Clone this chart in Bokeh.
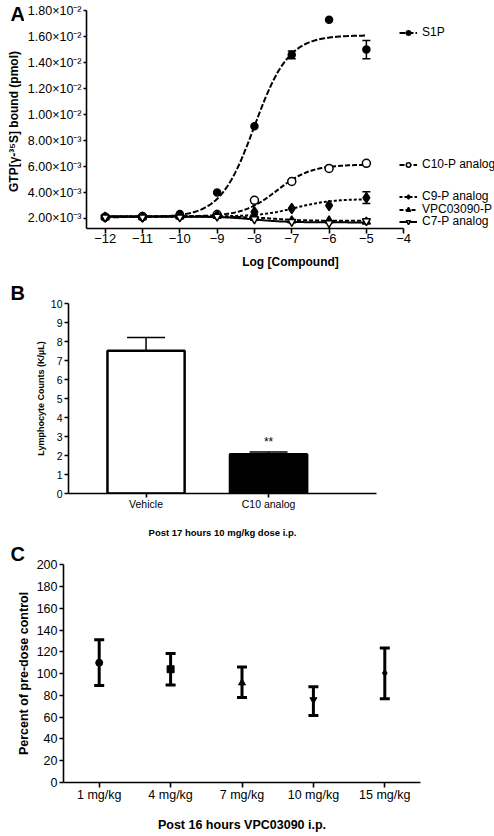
import numpy as np
from bokeh.plotting import figure
from bokeh.models import (ColumnDataSource, Whisker, TeeHead, Legend, LegendItem, Label, Title,
                          FixedTicker, CustomJSTickFormatter, FactorRange, Range1d)
from bokeh.layouts import column, row
from bokeh.embed import file_html
from bokeh.resources import INLINE

FONT = "Liberation Sans"

# ---------------- Panel A data ----------------
log_conc = [-12, -11, -10, -9, -8, -7, -6, -5]
s1p = [2.10e-3, 2.10e-3, 2.35e-3, 4.00e-3, 9.10e-3, 1.46e-2, 1.73e-2, 1.50e-2]
s1p_err = [0, 0, 0, 0, 0, 3.0e-4, 0, 7.0e-4]
c10 = [2.10e-3, 2.15e-3, 2.20e-3, 2.30e-3, 3.40e-3, 4.85e-3, 5.85e-3, 6.25e-3]
c9 = [2.10e-3, 2.10e-3, 2.20e-3, 2.25e-3, 2.50e-3, 2.77e-3, 3.00e-3, 3.60e-3]
c9_err = [0, 0, 0, 0, 0, 0, 0, 4.5e-4]
vpc = [2.10e-3, 2.10e-3, 2.15e-3, 2.20e-3, 2.05e-3, 1.85e-3, 1.85e-3, 1.75e-3]
c7 = [2.10e-3, 2.10e-3, 2.10e-3, 2.15e-3, 1.95e-3, 1.75e-3, 1.65e-3, 1.80e-3]

# sigmoid fit parameters: bottom, top, logEC50, hill
s1p_fit = [2.10e-3, 1.61e-2, -8.0, 0.95]
c10_fit = [2.15e-3, 6.15e-3, -7.4, 0.95]
c9_fit = [2.15e-3, 3.50e-3, -6.9, 0.9]
vpc_fit = [2.15e-3, 1.82e-3, -7.5, 1.0]
c7_fit = [2.15e-3, 1.70e-3, -8.0, 1.0]

series_names = ["S1P", "C10-P analog", "C9-P analog", "VPC03090-P", "C7-P analog"]

a_xticks = [-12, -11, -10, -9, -8, -7, -6, -5, -4]
a_yticks = [0.002, 0.004, 0.006, 0.008, 0.010, 0.012, 0.014, 0.016, 0.018]
a_ytick_labels = ["2.00×10⁻³", "4.00×10⁻³", "6.00×10⁻³", "8.00×10⁻³", "1.00×10⁻²",
                  "1.20×10⁻²", "1.40×10⁻²", "1.60×10⁻²", "1.80×10⁻²"]
a_ylabel = "GTP[γ-³⁵S] bound (pmol)"

# ---------------- Panel B data ----------------
b_groups = ["Vehicle", "C10 analog"]
b_pos = [1, 2]
b_counts = [7.52, 2.07]
b_err = [0.70, 0.12]
b_yticks = [0, 1, 2, 3, 4, 5, 6, 7, 8, 9, 10]

# ---------------- Panel C data ----------------
c_doses = ["1 mg/kg", "4 mg/kg", "7 mg/kg", "10 mg/kg", "15 mg/kg"]
c_mean = [110, 104, 91.5, 76, 100.5]
c_low = [89, 89.5, 78, 61.5, 77]
c_high = [131, 118.5, 106, 88, 123.5]
c_yticks = [0, 20, 40, 60, 80, 100, 120, 140, 160, 180, 200]


def style_axes(p, tick_size, label_size):
    for ax in p.axis:
        ax.axis_line_color = "black"
        ax.axis_line_width = 1.6
        ax.major_tick_line_color = "black"
        ax.major_tick_line_width = 1.6
        ax.major_tick_out = 5
        ax.major_tick_in = 0
        ax.minor_tick_out = 0
        ax.minor_tick_in = 0
        ax.major_label_text_font = FONT
        ax.major_label_text_font_size = tick_size
        ax.major_label_text_color = "black"
        ax.axis_label_text_font = FONT
        ax.axis_label_text_font_style = "bold"
        ax.axis_label_text_font_size = label_size
        ax.axis_label_text_color = "black"
    p.grid.visible = False
    p.outline_line_color = None
    if "frame_align" in p.properties():
        p.frame_align = False


def panel_letter(p, letter, offset, standoff=0, valign="bottom"):
    p.add_layout(Title(text=letter, align="left", offset=offset, standoff=standoff,
                       vertical_align=valign,
                       text_font=FONT, text_font_style="bold", text_font_size="20px",
                       text_color="black"), "above")


def lookup_formatter(tvals, tlabels):
    return CustomJSTickFormatter(
        args=dict(tvals=tvals, tlabels=tlabels),
        code="const i = tvals.findIndex(t => Math.abs(t - tick) < 1e-9); return i >= 0 ? tlabels[i] : '';")


# ================= Panel A =================
# narrow strip on the left that carries the letter "A" and the y-axis title
fa = figure(width=24, height=272, title=None, x_axis_type=None, y_axis_type=None,
            output_backend="svg", toolbar_location=None, min_border=0)
fa.outline_line_color = None
fa.grid.visible = False
if "frame_align" in fa.properties():
    fa.frame_align = False
fa.add_layout(Label(x=10, y=259, x_units="screen", y_units="screen", text="A",
                    text_baseline="alphabetic", text_font=FONT, text_font_style="bold",
                    text_font_size="20px", text_color="black"))
fa.add_layout(Label(x=13, y=151, x_units="screen", y_units="screen", text=a_ylabel,
                    angle=np.pi / 2, text_align="center", text_baseline="middle",
                    text_font=FONT, text_font_style="bold", text_font_size="12px",
                    text_color="black"))

pa = figure(width=470, height=272, title=None, x_range=Range1d(-12.5, -1.567),
            y_range=Range1d(0.00123, 0.01801), output_backend="svg", toolbar_location=None,
            min_border_left=61, min_border_right=0, min_border_top=10, min_border_bottom=44)
style_axes(pa, "12.5px", "12px")
pa.xaxis.major_label_text_font_size = "13px"
pa.xaxis.ticker = FixedTicker(ticks=a_xticks)
pa.xaxis.bounds = (-12.5, -4)
pa.xaxis.axis_label = "Log [Compound]"
pa.xaxis.major_label_standoff = 0
pa.xaxis.axis_label_standoff = 9
pa.yaxis.ticker = FixedTicker(ticks=a_yticks)
pa.yaxis.formatter = lookup_formatter(a_yticks, a_ytick_labels)
pa.yaxis.major_tick_out = 3
pa.yaxis.major_label_standoff = 2

xfit = np.linspace(-12, -5, 200)


def sigmoid(params):
    bottom, top, ec50, hill = params
    return bottom + (top - bottom) / (1 + 10 ** ((ec50 - xfit) * hill))


a_series = [
    (s1p, s1p_fit, "circle", "black", 7, "6 2"),
    (c10, c10_fit, "circle", "white", 8, "5 2"),
    (c9, c9_fit, "diamond", "black", 10, "3 2"),
    (vpc, vpc_fit, "triangle", "black", 8, "4 2"),
    (c7, c7_fit, "inverted_triangle", "white", 8, "solid"),
]
legend_y = [189, 57, 25, 12, 0]
for (vals, fit, marker, fill, size, dash), name, ly in zip(a_series, series_names, legend_y):
    lr = pa.line(xfit, sigmoid(fit), line_color="black", line_width=2, line_dash=dash)
    sr = pa.scatter(log_conc, vals, marker=marker, size=size, fill_color=fill,
                    line_color="black", line_width=1.5)
    leg = Legend(items=[LegendItem(label=name, renderers=[lr, sr])], location=(313, ly),
                 background_fill_alpha=0, border_line_alpha=0, padding=0, margin=0,
                 spacing=0, glyph_width=18, glyph_height=11, label_height=11,
                 label_standoff=5, label_text_font=FONT, label_text_font_size="12px",
                 label_text_color="black")
    pa.add_layout(leg, "center")

err_src = ColumnDataSource(dict(
    x=[log_conc[5], log_conc[7], log_conc[7]],
    upper=[s1p[5] + s1p_err[5], s1p[7] + s1p_err[7], c9[7] + c9_err[7]],
    lower=[s1p[5] - s1p_err[5], s1p[7] - s1p_err[7], c9[7] - c9_err[7]],
))
pa.add_layout(Whisker(source=err_src, base="x", upper="upper", lower="lower",
                      line_width=1.5, line_color="black",
                      upper_head=TeeHead(size=8, line_width=1.5, line_color="black"),
                      lower_head=TeeHead(size=8, line_width=1.5, line_color="black")))

# ================= Panel B =================
pb = figure(width=494, height=268, title=None, x_range=Range1d(0.367, 2.881),
            y_range=Range1d(0, 10.01), output_backend="svg", toolbar_location=None,
            min_border_left=68, min_border_right=118, min_border_top=31, min_border_bottom=44)
style_axes(pb, "10.5px", "9.5px")
pb.vbar(x=b_pos, top=b_counts, width=0.63, fill_color=["white", "black"],
        line_color="black", line_width=2.5)
bsrc = ColumnDataSource(dict(x=b_pos, lower=b_counts,
                             upper=[c + e for c, e in zip(b_counts, b_err)]))
pb.add_layout(Whisker(source=bsrc, base="x", upper="upper", lower="lower",
                      line_width=1.5, line_color="black",
                      upper_head=TeeHead(size=38, line_width=1.5, line_color="black"),
                      lower_head=None))
pb.add_layout(Label(x=b_pos[1], y=b_counts[1] + b_err[1], y_offset=3, text="**",
                    text_align="center", text_font=FONT, text_font_size="12px",
                    text_color="black"))
pb.xaxis.ticker = FixedTicker(ticks=b_pos)
pb.xaxis.formatter = lookup_formatter(b_pos, b_groups)
pb.xaxis.major_tick_out = 4
pb.xaxis.major_label_standoff = 0
pb.xaxis.axis_label = "Post 17 hours 10 mg/kg dose i.p."
pb.xaxis.axis_label_standoff = 14
pb.yaxis.ticker = FixedTicker(ticks=b_yticks)
pb.yaxis.major_tick_out = 4
pb.yaxis.major_label_standoff = 2
pb.yaxis.axis_label = "Lymphocyte Counts (K/µL)"
pb.yaxis.axis_label_text_font_size = "9px"
pb.yaxis.axis_label_standoff = 2
panel_letter(pb, "B", -58)

# ================= Panel C =================
pc = figure(width=494, height=294, title=None, x_range=FactorRange(factors=c_doses),
            y_range=Range1d(0, 200.2), output_backend="svg", toolbar_location=None,
            min_border_left=63, min_border_right=74, min_border_top=23, min_border_bottom=48)
style_axes(pc, "12.5px", "12.5px")
c_markers = ["circle", "square", "triangle", "inverted_triangle", "diamond"]
csrc = ColumnDataSource(dict(dose=c_doses, mean=c_mean, low=c_low, high=c_high, marker=c_markers))
pc.add_layout(Whisker(source=csrc, base="dose", upper="high", lower="low",
                      line_width=3, line_color="black",
                      upper_head=TeeHead(size=10, line_width=3, line_color="black"),
                      lower_head=TeeHead(size=10, line_width=3, line_color="black")))
pc.scatter("dose", "mean", source=csrc, marker="marker", size=7, fill_color="black",
           line_color="black")
pc.xaxis.major_tick_out = 5
pc.xaxis.major_label_standoff = 0
pc.xaxis.axis_label = "Post 16 hours VPC03090 i.p."
pc.xaxis.axis_label_standoff = 13
pc.yaxis.ticker = FixedTicker(ticks=c_yticks)
pc.yaxis.major_tick_out = 4
pc.yaxis.major_label_standoff = 2
pc.yaxis.axis_label = "Percent of pre-dose control"
pc.yaxis.axis_label_standoff = 3
panel_letter(pc, "C", -53)

layout = column(row(fa, pa, spacing=0), pb, pc, spacing=0)
open("out.html", "w").write(file_html(layout, INLINE))
